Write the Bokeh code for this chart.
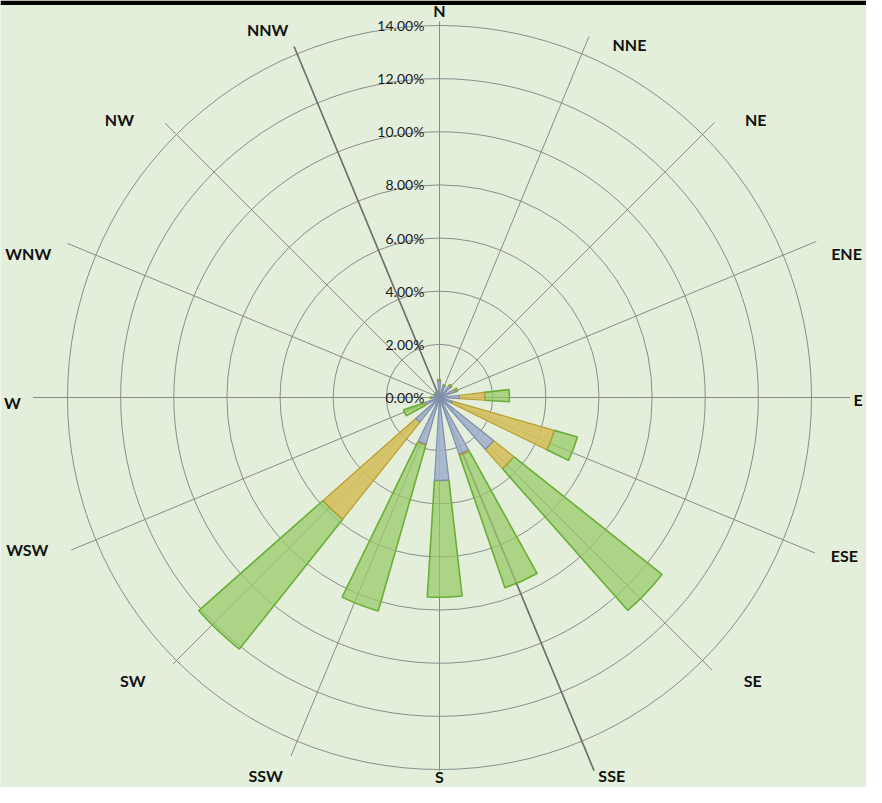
import numpy as np
from bokeh.plotting import figure
from bokeh.models import BoxAnnotation
from bokeh.core.properties import value
from bokeh.embed import file_html
from bokeh.resources import INLINE

# ---------------- data ----------------
DIRECTIONS = ["N", "NNE", "NE", "ENE", "E", "ESE", "SE", "SSE",
              "S", "SSW", "SW", "WSW", "W", "WNW", "NW", "NNW"]
ANGLES = [0, 22.5, 45, 67.5, 90, 112.5, 135, 157.5,
          180, 202.5, 225, 247.5, 270, 292.5, 315, 337.5]
# stacked segments (percent of time)
SERIES_GRAY = [0.62, 0.45, 0.55, 0.62, 0.75, 0.50, 2.60, 2.25,
               3.12, 1.82, 1.18, 0.55, 0.30, 0.20, 0.20, 0.25]
SERIES_YELLOW = [0.03, 0.02, 0.04, 0.05, 0.95, 3.99, 0.97, 0.05,
                 0.00, 0.04, 4.67, 0.05, 0.02, 0.01, 0.01, 0.01]
SERIES_GREEN = [0.03, 0.03, 0.04, 0.05, 0.93, 0.91, 7.13, 5.27,
                4.40, 6.50, 6.25, 0.83, 0.03, 0.02, 0.02, 0.02]
RING_VALUES = [2, 4, 6, 8, 10, 12, 14]
TICK_VALUES = [0, 2, 4, 6, 8, 10, 12, 14]
TICK_LABELS = ["0.00%", "2.00%", "4.00%", "6.00%", "8.00%", "10.00%", "12.00%", "14.00%"]

# ---------------- layout / style ----------------
W, H = 866, 787
PX = 372 / 14.0          # pixels per percent
CX, CY = 439, 397        # centre in figure pixels
BG = "#E3EFDA"

# spoke lengths (percent) and label placement (compass angle, radius)
SPOKE_LEN = [14.15, 14.7, 14.65, 15.35, 15.45, 15.3, 14.5, 15.2,
             14.05, 14.6, 14.2, 15.0, 15.3, 15.15, 14.6, 14.3]
LABEL_ANG = [0, 28.3, 48.7, 70.5, 90.3, 111.3, 132.1, 155.5,
             180, 204.7, 227.3, 249.8, 269.3, 289.3, 311, 335]
LABEL_R = [14.55, 15.08, 15.84, 16.25, 15.75, 16.35, 15.89, 15.63,
           14.25, 15.66, 15.71, 16.53, 16.07, 16.40, 15.96, 15.3]

p = figure(width=W, height=H, output_backend="svg", toolbar_location=None,
           x_range=(-CX / PX, (W - CX) / PX), y_range=(-(H - CY) / PX, CY / PX),
           min_border=0)
p.axis.visible = False
p.grid.visible = False
p.outline_line_color = None
p.background_fill_color = BG
p.border_fill_color = BG

# top black band
p.add_layout(BoxAnnotation(bottom=CY / PX - 4.5 / PX, fill_color="black",
                           fill_alpha=1, line_alpha=0))

# rings
p.circle(x=[0] * len(RING_VALUES), y=[0] * len(RING_VALUES), radius=RING_VALUES,
         fill_alpha=0, line_color="#8c8c8c", line_width=1)

# spokes
ang = np.radians(ANGLES)
sl = np.array(SPOKE_LEN)
p.segment(x0=0, y0=0, x1=sl * np.sin(ang), y1=sl * np.cos(ang),
          line_color="#8a8a8a", line_width=1)
# darker value-axis line (NNW - SSE)
iN, iS = DIRECTIONS.index("NNW"), DIRECTIONS.index("SSE")
p.segment(x0=[0, 0], y0=[0, 0],
          x1=[sl[iN] * np.sin(ang[iN]), sl[iS] * np.sin(ang[iS])],
          y1=[sl[iN] * np.cos(ang[iN]), sl[iS] * np.cos(ang[iS])],
          line_color="#6f6f6f", line_width=1.6)

# stacked wedges
gray = np.array(SERIES_GRAY)
yel = gray + np.array(SERIES_YELLOW)
grn = yel + np.array(SERIES_GREEN)
a = np.array(ANGLES)
start = np.radians(90 - a - 3.5)
end = np.radians(90 - a + 6.5)

p.annular_wedge(x=0, y=0, inner_radius=yel, outer_radius=grn,
                start_angle=start, end_angle=end, direction="anticlock",
                fill_color="#97C965", fill_alpha=0.72,
                line_color="#6AAE35", line_width=1.6)
p.annular_wedge(x=0, y=0, inner_radius=gray, outer_radius=yel,
                start_angle=start, end_angle=end, direction="anticlock",
                fill_color="#D4BE5A", fill_alpha=0.88,
                line_color="#B89E33", line_width=1.2)
p.annular_wedge(x=0, y=0, inner_radius=0, outer_radius=gray,
                start_angle=start, end_angle=end, direction="anticlock",
                fill_color="#A2B1CA", fill_alpha=0.9,
                line_color="#7F8EAA", line_width=1.2)

# tick labels along N axis
p.text(x=[-0.57] * len(TICK_VALUES), y=TICK_VALUES, text=TICK_LABELS,
       text_align="right", text_baseline="middle",
       text_font=value("Lato"), text_font_size="14px", text_color="#1a1a1a")

# direction labels
la = np.radians(LABEL_ANG)
lr = np.array(LABEL_R)
p.text(x=lr * np.sin(la), y=lr * np.cos(la), text=DIRECTIONS,
       text_align="center", text_baseline="middle",
       text_font=value("Lato"), text_font_style="bold",
       text_font_size="16px", text_color="#111111")

open("out.html", "w").write(file_html(p, INLINE))
